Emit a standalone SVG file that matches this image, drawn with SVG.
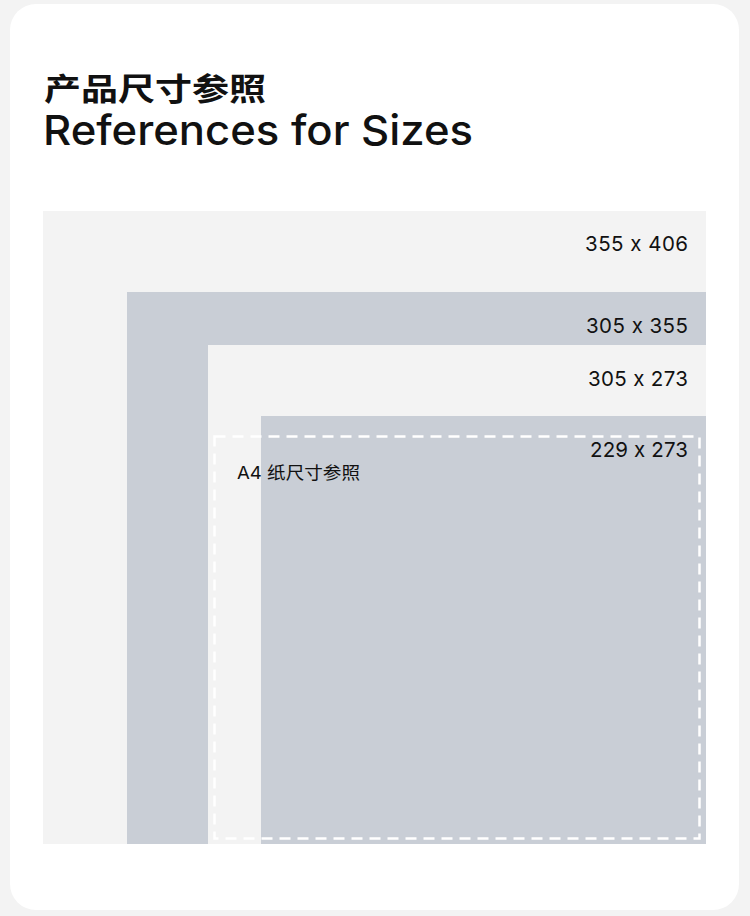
<svg xmlns="http://www.w3.org/2000/svg" width="750" height="916" viewBox="0 0 750 916">
<style>
.light{fill:#f3f3f3}
.gray{fill:#c9ced6}
.lbl{font-family:Inter,"Noto Sans","Noto Sans CJK SC",sans-serif;font-size:20.5px;fill:#111;text-anchor:end;font-feature-settings:"calt" 0}
.title{font-family:Inter,"Noto Sans CJK SC",sans-serif;fill:#111;font-feature-settings:"calt" 0}
</style>
<rect x="0" y="0" width="750" height="916" fill="#f3f3f3"/>
<rect x="10" y="4" width="729" height="906" rx="26" fill="#ffffff"/>
<g id="title">
<text class="title" x="44" y="100" font-size="31" font-weight="700" textLength="222" lengthAdjust="spacingAndGlyphs">产品尺寸参照</text>
<text class="title" x="43" y="145" font-size="41" font-weight="500" textLength="430" lengthAdjust="spacingAndGlyphs">References for Sizes</text>
</g>
<g id="size-355x406">
<rect class="light" x="43" y="211" width="663" height="633"/>
<text class="lbl" x="688" y="251" textLength="103">355 x 406</text>
</g>
<g id="size-305x355">
<rect class="gray" x="127" y="292" width="579" height="552"/>
<text class="lbl" x="688" y="333" textLength="102">305 x 355</text>
</g>
<g id="size-305x273">
<rect class="light" x="208" y="345" width="498" height="499"/>
<text class="lbl" x="688" y="386" textLength="100">305 x 273</text>
</g>
<g id="size-229x273">
<rect class="gray" x="261" y="416" width="445" height="428"/>
<text class="lbl" x="688" y="457" textLength="98">229 x 273</text>
</g>
<g id="a4">
<rect x="214.5" y="436.5" width="485" height="402" fill="none" stroke="#ffffff" stroke-width="2.5" stroke-dasharray="11 7"/>
<text x="237" y="479" font-family="Inter,'Noto Sans CJK SC',sans-serif" font-size="17.5" fill="#111" textLength="123" lengthAdjust="spacingAndGlyphs">A4 纸尺寸参照</text>
</g>
<g id="connectors"></g>
</svg>
